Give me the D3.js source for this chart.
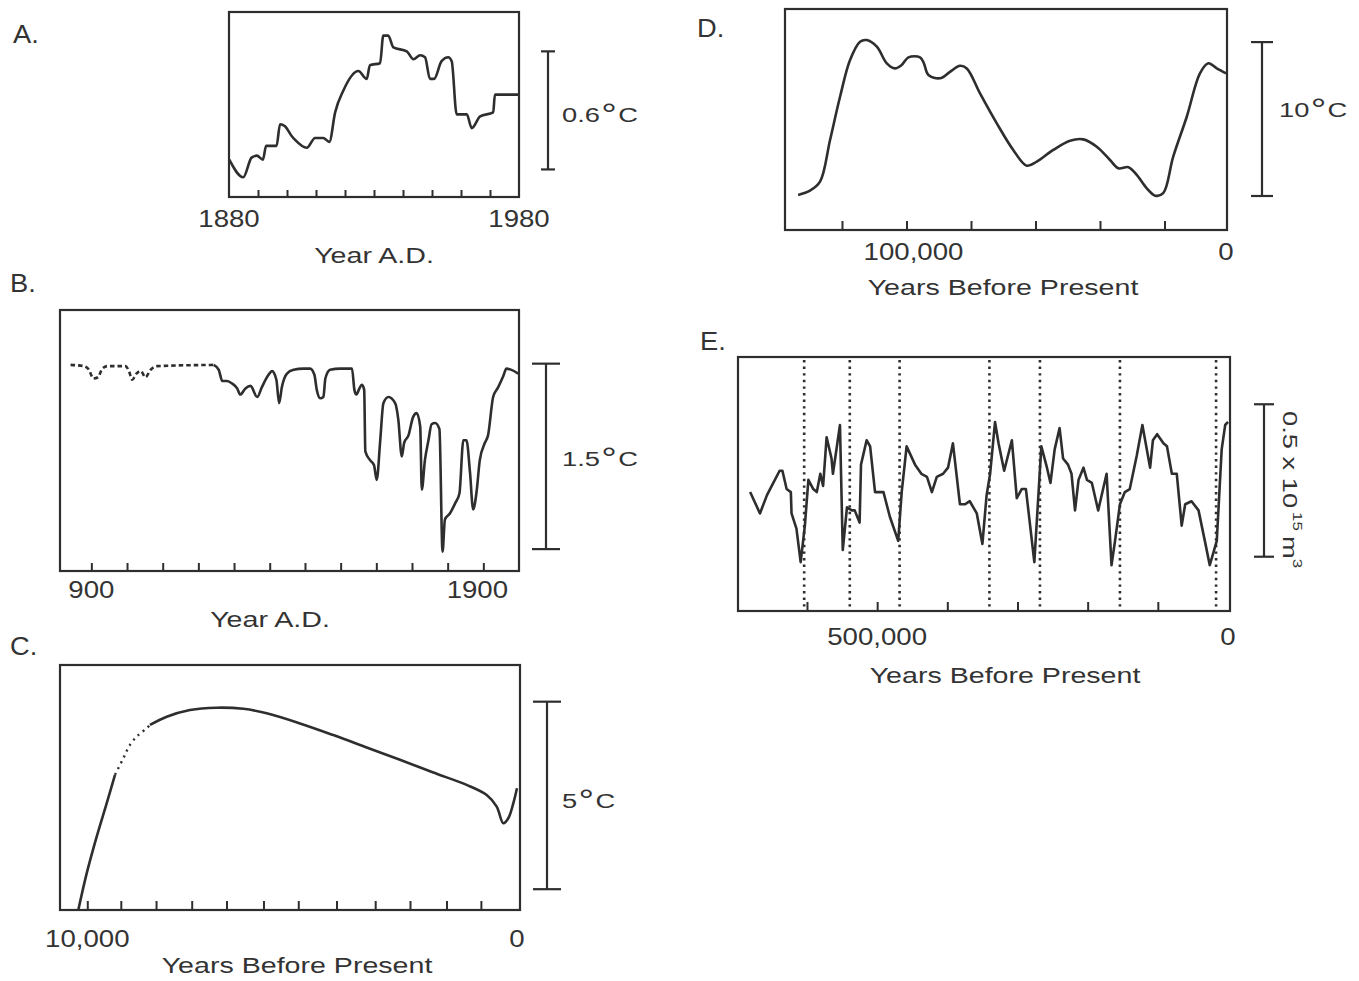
<!DOCTYPE html>
<html>
<head>
<meta charset="utf-8">
<script src="https://cdn.jsdelivr.net/npm/d3@7"></script>
<style>
body { margin: 0; background: #fff; }
svg { display: block; font-family: "Liberation Sans", Arial, sans-serif; }
text { fill: #333; }
</style>
</head>
<body>
<svg id="fig" width="1359" height="981"></svg>
<script>
// ---- A: global temperature, 1880-1980 (deg C anomaly) ----
const yearA = [1880.1, 1884.9, 1887.8, 1889.6, 1891.7, 1892.8, 1896.4, 1897.6, 1899.3, 1901.6,
  1902.8, 1906.8, 1909.7, 1912.5, 1914.6, 1916.6, 1919.4, 1924.6, 1927.5, 1928.6,
  1932.1, 1933.2, 1934.9, 1936.7, 1941.3, 1943.6, 1945.9, 1947.6, 1949.3, 1950.7,
  1953.3, 1955.6, 1956.8, 1958.5, 1962.0, 1963.7, 1966.6, 1971.1, 1971.7, 1980.0];
const tempA = [-0.36, -0.45, -0.35, -0.34, -0.36, -0.29, -0.29, -0.18, -0.19, -0.24,
  -0.26, -0.30, -0.25, -0.25, -0.27, -0.12, -0.01, 0.09, 0.05, 0.12,
  0.13, 0.27, 0.27, 0.21, 0.19, 0.15, 0.17, 0.16, 0.05, 0.05,
  0.14, 0.16, 0.14, -0.13, -0.13, -0.20, -0.14, -0.12, -0.03, -0.03];
const ticksA = [1890, 1900, 1910, 1920, 1930, 1940, 1950, 1960, 1970];
const labelsA = [1880, 1980];

// ---- B: Year A.D. 900-1900 (dashed early part, then solid) ----
const yearB1 = [847, 881, 894, 905, 917, 928, 941, 987, 996, 1004, 1015, 1026, 1038, 1051, 1068, 1212];
const tempB1 = [0, -0.01, -0.04, -0.11, -0.10, -0.03, -0.01, -0.01, -0.05, -0.12, -0.07, -0.05, -0.10, -0.04, -0.01, 0];
const yearB2 = [1212, 1225, 1234, 1246, 1259, 1272, 1280, 1293, 1306, 1323,
  1335, 1352, 1361, 1372, 1379, 1386, 1399, 1416, 1441, 1458,
  1469, 1475, 1484, 1492, 1497, 1509, 1535, 1565, 1571, 1576,
  1584, 1590, 1596, 1599, 1611, 1621, 1628, 1637, 1645, 1658,
  1675, 1683, 1692, 1698, 1709, 1721, 1730, 1739, 1743, 1751,
  1760, 1768, 1777, 1788, 1796, 1802, 1815, 1828, 1839, 1849,
  1857, 1866, 1874, 1883, 1891, 1904, 1912, 1925, 1938, 1951,
  1959, 1972, 1989];
const tempB2 = [0, -0.04, -0.13, -0.13, -0.15, -0.19, -0.24, -0.19, -0.17, -0.26,
  -0.18, -0.08, -0.05, -0.12, -0.31, -0.18, -0.07, -0.04, -0.03, -0.03,
  -0.08, -0.20, -0.27, -0.26, -0.11, -0.04, -0.03, -0.03, -0.20, -0.24,
  -0.19, -0.16, -0.20, -0.70, -0.77, -0.81, -0.93, -0.61, -0.31, -0.26,
  -0.31, -0.44, -0.74, -0.63, -0.57, -0.42, -0.39, -0.50, -1.01, -0.77,
  -0.61, -0.48, -0.47, -0.52, -1.51, -1.25, -1.20, -1.12, -1.04, -0.61,
  -0.61, -0.87, -1.17, -1.02, -0.77, -0.63, -0.57, -0.26, -0.18, -0.09,
  -0.03, -0.04, -0.07];
const ticksB = [900, 991, 1082, 1173, 1264, 1355, 1445, 1536, 1627, 1718, 1809, 1900];
const labelsB = [900, 1900];

// ---- C: last 10,000 years (years before present) ----
const bpC1 = [10210, 10014, 9781, 9549, 9355];
const tempC1 = [-3.25, -2.27, -1.29, -0.40, 0.36];
const bpC2 = [9355, 9162, 9006, 8813, 8618, 8541];          // dotted stretch
const tempC2 = [0.36, 0.80, 1.16, 1.42, 1.60, 1.69];
const bpC3 = [8541, 8152, 7610, 6989, 6370, 5825, 5050, 4275, 3498, 2723, 1948, 1171, 705, 472, 319, 202, 86, 0];
const tempC3 = [1.69, 1.91, 2.09, 2.15, 2.12, 2.00, 1.73, 1.42, 1.09, 0.76, 0.42, 0.09, -0.18, -0.49, -0.93, -0.80, -0.40, 0];
const ticksC = [10000, 9220, 8400, 7570, 6760, 5900, 5090, 4200, 3300, 2490, 1640, 840];
const labelsC = [10000, 0];

// ---- D: last ~135,000 years (kyr before present) ----
const kyrD = [133.6, 129.9, 126.8, 123.7, 120.6, 117.5, 114.4, 112.3, 109.2, 106.1,
  103.6, 101.5, 99.4, 95.8, 94.6, 93.2, 89.6, 86.5, 83.4, 81.3,
  77.2, 72.0, 66.9, 62.7, 59.6, 54.5, 49.3, 45.2, 41.0, 36.9,
  34.3, 31.2, 28.6, 25.5, 22.9, 20.4, 17.3, 13.1, 9.0, 6.4,
  3.8, 0.9];
const tempD = [-7.90, -7.62, -7.04, -4.33, -1.52, 0.86, 2.05, 2.16, 1.73, 0.65,
  0.32, 0.54, 1.04, 1.04, 0.65, -0.11, -0.32, 0.10, 0.49, 0.32,
  -1.30, -3.25, -4.98, -6.00, -5.74, -4.98, -4.38, -4.29, -4.77, -5.63,
  -6.17, -6.10, -6.60, -7.47, -7.95, -7.79, -5.42, -2.82, 0, 0.65,
  0.32, 0];
const ticksD = [120, 100, 80, 60, 40, 20];
const labelsD = [100, 0];

// ---- E: last ~700,000 years, ice volume (10^15 m^3) ----
const kyrE = [681, 667, 657, 648, 639, 635, 629, 623, 622, 615,
  609, 603, 598, 591, 586, 581, 577, 572, 565, 563,
  553, 549, 543, 536, 532, 525, 523, 515, 510, 503,
  491, 482, 470, 465, 458, 446, 437, 429, 422, 415,
  406, 399, 392, 382, 375, 368, 358, 350, 344, 339,
  332, 327, 319, 308, 301, 294, 288, 276, 266, 258,
  253, 247, 240, 235, 228, 223, 218, 213, 206, 201,
  194, 185, 178, 173, 166, 161, 154, 147, 140, 130,
  122, 111, 107, 101, 92, 87, 80, 73, 66, 61,
  52, 42, 33, 26, 16, 9, 4, 0];
const volE = [0.39, 0.32, 0.38, 0.42, 0.46, 0.46, 0.40, 0.39, 0.32, 0.27,
  0.16, 0.28, 0.43, 0.40, 0.39, 0.45, 0.41, 0.57, 0.50, 0.45,
  0.61, 0.20, 0.34, 0.33, 0.33, 0.29, 0.48, 0.56, 0.54, 0.39,
  0.39, 0.31, 0.23, 0.39, 0.54, 0.48, 0.45, 0.44, 0.39, 0.44,
  0.45, 0.47, 0.55, 0.35, 0.35, 0.36, 0.32, 0.22, 0.38, 0.45,
  0.62, 0.55, 0.46, 0.56, 0.37, 0.40, 0.40, 0.16, 0.54, 0.47,
  0.42, 0.53, 0.60, 0.50, 0.48, 0.45, 0.33, 0.43, 0.47, 0.43,
  0.42, 0.33, 0.40, 0.45, 0.15, 0.23, 0.35, 0.39, 0.40, 0.51,
  0.61, 0.47, 0.56, 0.58, 0.55, 0.54, 0.45, 0.45, 0.28, 0.35,
  0.36, 0.33, 0.23, 0.15, 0.23, 0.53, 0.61, 0.62];
const terminationsE = [604, 539, 468, 340, 268, 154, 17];
const ticksE = [600, 500, 400, 300, 200, 100];
const labelsE = [500, 0];

const INK = '#2e2e2e';
const svg = d3.select('#fig');

function label(g, x, y, s, size, sx, anchor) {
  return g.append('text')
    .attr('transform', `translate(${x},${y}) scale(${sx},1)`)
    .attr('font-size', size)
    .attr('text-anchor', anchor || 'middle')
    .text(s);
}

// frame + bottom axis (ticks pointing up) + tick labels + title
function panel(c) {
  const [x0, y0, x1, y1] = c.box;
  const x = d3.scaleLinear().domain(c.xDomain).range([x0, x1]);
  const y = d3.scaleLinear().domain(c.yDomain).range([y1, y0]);
  const g = svg.append('g');

  g.append('clipPath').attr('id', 'clip' + c.id)
    .append('rect').attr('x', x0).attr('y', y0).attr('width', x1 - x0).attr('height', y1 - y0);

  const ax = g.append('g')
    .attr('transform', `translate(0,${y1})`)
    .call(d3.axisBottom(x).tickValues(c.ticks).tickSize(-c.tickLen).tickFormat(''));
  ax.select('.domain').remove();
  ax.selectAll('line').attr('stroke', INK).attr('stroke-width', 2);

  g.append('rect')
    .attr('x', x0).attr('y', y0).attr('width', x1 - x0).attr('height', y1 - y0)
    .attr('fill', 'none').attr('stroke', INK).attr('stroke-width', 2.2);

  c.labels.forEach(v => label(g, x(v) + (c.labelShift ? c.labelShift(v) : 0), c.labelY, c.fmt(v), 24, 1.15));
  label(g, c.titleX, c.titleY, c.title, 22, 1.3);
  label(g, c.letterX, c.letterY, c.letter, 26, 1.05, 'start');

  return {x, y, g, clip: `url(#clip${c.id})`};
}

function curve(p, xs, ys, curveType, dash) {
  const pts = xs.map((v, i) => [v, ys[i]]);
  const line = d3.line().x(d => p.x(d[0])).y(d => p.y(d[1])).curve(curveType);
  return p.g.append('path')
    .attr('d', line(pts))
    .attr('clip-path', p.clip)
    .attr('fill', 'none')
    .attr('stroke', INK)
    .attr('stroke-width', 2.6)
    .attr('stroke-linejoin', 'round')
    .attr('stroke-dasharray', dash || null);
}

// vertical scale bar with end caps, sized with the panel's y scale
function scaleBar(p, bx, base, span, cap) {
  const yb = p.y(base), yt = p.y(base + span);
  const g = p.g.append('g').attr('stroke', INK).attr('stroke-width', 2.2);
  g.append('line').attr('x1', bx).attr('x2', bx).attr('y1', yb).attr('y2', yt);
  [yb, yt].forEach(yy => g.append('line')
    .attr('x1', bx - cap).attr('x2', bx + cap).attr('y1', yy).attr('y2', yy));
}

function degLabel(p, x, y, num) {
  const t = p.g.append('text')
    .attr('transform', `translate(${x},${y}) scale(1.3,1)`)
    .attr('font-size', 21);
  t.append('tspan').text(num);
  t.append('tspan').attr('dx', 1).attr('dy', 2).attr('font-size', 30).text('°');
  t.append('tspan').attr('dx', 1).attr('dy', -2).text('C');
}

// ---- Panel A ----
const pA = panel({id: 'A', box: [229, 12, 519, 197], xDomain: [1880, 1980], yDomain: [-0.55, 0.39],
  ticks: ticksA, tickLen: 7, labels: labelsA, labelY: 227, fmt: d => String(d),
  title: 'Year A.D.', titleX: 374, titleY: 263, letter: 'A.', letterX: 13, letterY: 43});
curve(pA, yearA, tempA, d3.curveMonotoneX);
scaleBar(pA, 548, -0.41, 0.6, 7);
degLabel(pA, 562, 122, '0.6');

// ---- Panel B ----
const pB = panel({id: 'B', box: [60, 310, 519, 571], xDomain: [820, 1991], yDomain: [-1.667, 0.444],
  ticks: ticksB, tickLen: 8, labels: labelsB, labelY: 598, fmt: d => String(d),
  labelShift: d => (d === 1900 ? -6 : 0),
  title: 'Year A.D.', titleX: 270, titleY: 627, letter: 'B.', letterX: 10, letterY: 292});
curve(pB, yearB1, tempB1, d3.curveMonotoneX, '4.5,3');
curve(pB, yearB2, tempB2, d3.curveMonotoneX);
scaleBar(pB, 546, -1.49, 1.5, 14);
degLabel(pB, 562, 466, '1.5');

// ---- Panel C ----
const pC = panel({id: 'C', box: [60, 665, 520, 910], xDomain: [10635, -70], yDomain: [-3.245, 3.288],
  ticks: ticksC, tickLen: 9, labels: labelsC, labelY: 947, fmt: d3.format(','),
  title: 'Years Before Present', titleX: 297, titleY: 973, letter: 'C.', letterX: 10, letterY: 655});
curve(pC, bpC1, tempC1, d3.curveCatmullRom);
curve(pC, bpC2, tempC2, d3.curveCatmullRom, '2,4.5').attr('stroke-width', 2.4);
curve(pC, bpC3, tempC3, d3.curveCatmullRom);
scaleBar(pC, 547, -2.69, 5, 14);
degLabel(pC, 562, 808, '5');

// ---- Panel D ----
const pD = panel({id: 'D', box: [785, 9, 1227, 230], xDomain: [137.67, 0.62], yDomain: [-10.18, 4.18],
  ticks: ticksD, tickLen: 9, labels: labelsD, labelY: 260, fmt: d => d3.format(',')(d * 1000),
  labelShift: d => (d === 100 ? 7 : -3),
  title: 'Years Before Present', titleX: 1003, titleY: 295, letter: 'D.', letterX: 697, letterY: 37});
curve(pD, kyrD, tempD, d3.curveCatmullRom);
scaleBar(pD, 1262, -7.97, 10, 11);
degLabel(pD, 1279, 117, '10');

// ---- Panel E ----
const pE = panel({id: 'E', box: [738, 357, 1230, 611], xDomain: [698.3, -2.85], yDomain: [0, 0.833],
  ticks: ticksE, tickLen: 9, labels: labelsE, labelY: 645, fmt: d => d3.format(',')(d * 1000),
  title: 'Years Before Present', titleX: 1005, titleY: 683, letter: 'E.', letterX: 700, letterY: 350});
pE.g.selectAll('line.term').data(terminationsE).join('line')
  .attr('class', 'term')
  .attr('x1', d => pE.x(d)).attr('x2', d => pE.x(d))
  .attr('y1', pE.y(0.833) + 3).attr('y2', pE.y(0))
  .attr('stroke', INK).attr('stroke-width', 2.6)
  .attr('stroke-dasharray', '2.4,4.2');
curve(pE, kyrE, volE, d3.curveLinear);
scaleBar(pE, 1264, 0.178, 0.5, 10);

const tE = pE.g.append('text')
  .attr('transform', 'translate(1283,411) rotate(90) scale(1.3,1)')
  .attr('font-size', 21);
tE.append('tspan').text('0.5 x 10');
tE.append('tspan').attr('dx', 3).attr('dy', -10).attr('font-size', 13).text('15');
tE.append('tspan').attr('dx', 4).attr('dy', 10).text('m');
tE.append('tspan').attr('dy', -10).attr('font-size', 13).text('3');
</script>
</body>
</html>
